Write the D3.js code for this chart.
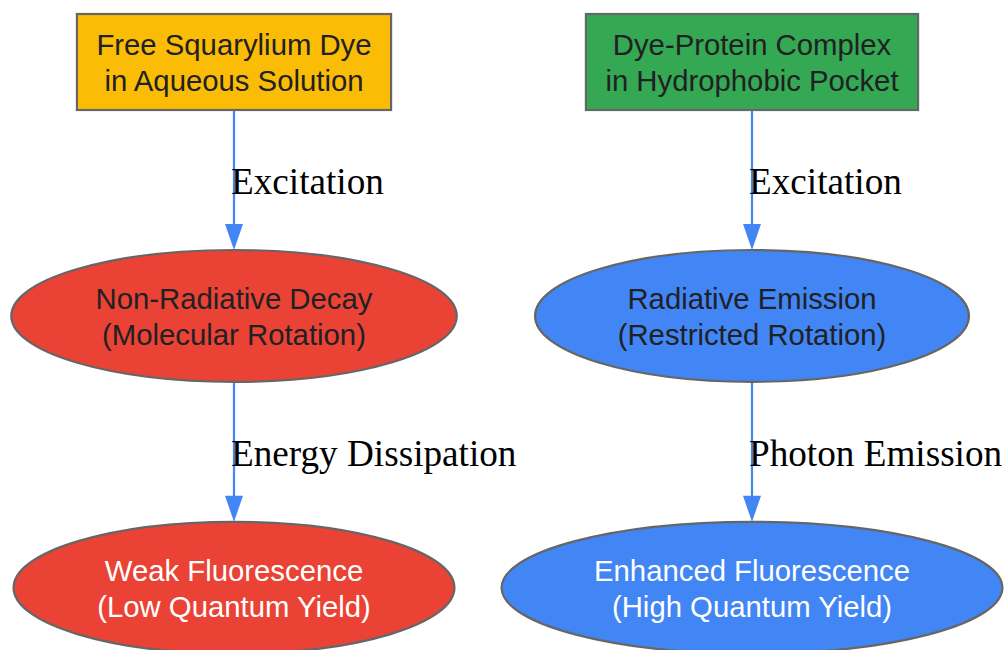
<!DOCTYPE html>
<html><head><meta charset="utf-8">
<script src="https://cdn.jsdelivr.net/npm/d3@7"></script>
<style>body{margin:0;background:#fff;overflow:hidden} svg{display:block}</style>
</head><body><svg id="c" width="1006" height="650"></svg>
<script>
// ---- data ----
const columns = ["Free dye", "Protein complex"];
const nodeLabels = [
  ["Free Squarylium Dye", "in Aqueous Solution"],
  ["Dye-Protein Complex", "in Hydrophobic Pocket"],
  ["Non-Radiative Decay", "(Molecular Rotation)"],
  ["Radiative Emission", "(Restricted Rotation)"],
  ["Weak Fluorescence", "(Low Quantum Yield)"],
  ["Enhanced Fluorescence", "(High Quantum Yield)"]
];
const nodeColumn = [0, 1, 0, 1, 0, 1];
const nodeRank = [0, 0, 1, 1, 2, 2];
const nodeShape = ["box", "box", "ellipse", "ellipse", "ellipse", "ellipse"];
const nodeKind = ["yellow", "green", "red", "blue", "redLight", "blueLight"];
const edgeSource = [0, 1, 2, 3];
const edgeTarget = [2, 3, 4, 5];
const edgeLabels = ["Excitation", "Excitation", "Energy Dissipation", "Photon Emission"];

// ---- styles ----
const kindFill = {yellow:"#FBBC05", green:"#34A853", red:"#EA4335", blue:"#4285F4", redLight:"#EA4335", blueLight:"#4285F4"};
const kindText = {yellow:"#202124", green:"#202124", red:"#202124", blue:"#202124", redLight:"#ffffff", blueLight:"#ffffff"};
const nodeFont = "Liberation Sans, Arial, sans-serif";
const edgeFont = "Liberation Serif, Times New Roman, serif";
const fontSize = 29.3, lineH = 36, edgeFontSize = 37.2;
const strokeCol = "#666666", edgeCol = "#4285F4";

const svg = d3.select("#c");
const marginTop = 14, rankGap = 140;

// measure text
const meas = svg.append("text").attr("font-family", nodeFont).attr("font-size", fontSize);
function tw(s){ meas.text(s); return meas.node().getComputedTextLength(); }
const nodes = nodeLabels.map((lines, i) => {
  const w = d3.max(lines, tw);
  const bh = lines.length * lineH;
  let hw, hh;
  if (nodeShape[i] === "box") { hw = (w + 39) / 2; hh = (bh + 24) / 2; }
  else { hw = (w / 2) * Math.SQRT2 + 27; hh = (bh / 2) * Math.SQRT2 + 15; }
  return {i, lines, hw, hh, col: nodeColumn[i], rank: nodeRank[i], shape: nodeShape[i], kind: nodeKind[i]};
});
meas.remove();

const x = d3.scalePoint().domain(d3.range(columns.length)).range([234, 752]);
const ranks = d3.range(d3.max(nodeRank) + 1);
const rankH = ranks.map(r => 2 * d3.max(nodes.filter(n => n.rank === r), n => n.hh));
const rankTop = [];
ranks.forEach((r, k) => { rankTop[k] = k === 0 ? marginTop : rankTop[k-1] + rankH[k-1] + rankGap; });
nodes.forEach(n => { n.cx = x(n.col); n.cy = rankTop[n.rank] + rankH[n.rank] / 2; });

// edges
const edges = edgeSource.map((s, k) => ({s: nodes[s], t: nodes[edgeTarget[k]], label: edgeLabels[k]}));
const eg = svg.append("g");
edges.forEach(e => {
  const x0 = e.s.cx, y0 = e.s.cy + e.s.hh, y1 = e.t.cy - e.t.hh;
  const ah = 26, aw = 9;
  eg.append("line").attr("x1", x0).attr("x2", x0).attr("y1", y0).attr("y2", y1 - ah + 2)
    .attr("stroke", edgeCol).attr("stroke-width", 2.2);
  eg.append("path").attr("d", `M${x0-aw},${y1-ah}L${x0+aw},${y1-ah}L${x0},${y1}Z`).attr("fill", edgeCol);
  eg.append("text").attr("x", x0 - 3).attr("y", (y0 + y1) / 2 + 14)
    .attr("font-family", edgeFont).attr("font-size", edgeFontSize).attr("fill", "#000").text(e.label);
});

// nodes
const ng = svg.selectAll("g.node").data(nodes).join("g").attr("class", "node");
ng.filter(d => d.shape === "box").append("rect")
  .attr("x", d => d.cx - d.hw).attr("y", d => d.cy - d.hh)
  .attr("width", d => 2 * d.hw).attr("height", d => 2 * d.hh)
  .attr("fill", d => kindFill[d.kind]).attr("stroke", strokeCol).attr("stroke-width", 2.2);
ng.filter(d => d.shape === "ellipse").append("ellipse")
  .attr("cx", d => d.cx).attr("cy", d => d.cy).attr("rx", d => d.hw).attr("ry", d => d.hh)
  .attr("fill", d => kindFill[d.kind]).attr("stroke", strokeCol).attr("stroke-width", 2.2);
ng.each(function(d){
  const g = d3.select(this);
  d.lines.forEach((s, j) => {
    g.append("text").attr("x", d.cx).attr("y", d.cy + (j - (d.lines.length - 1) / 2) * lineH + 11)
      .attr("text-anchor", "middle").attr("font-family", nodeFont).attr("font-size", fontSize)
      .attr("fill", kindText[d.kind]).text(s);
  });
});
</script></body></html>
